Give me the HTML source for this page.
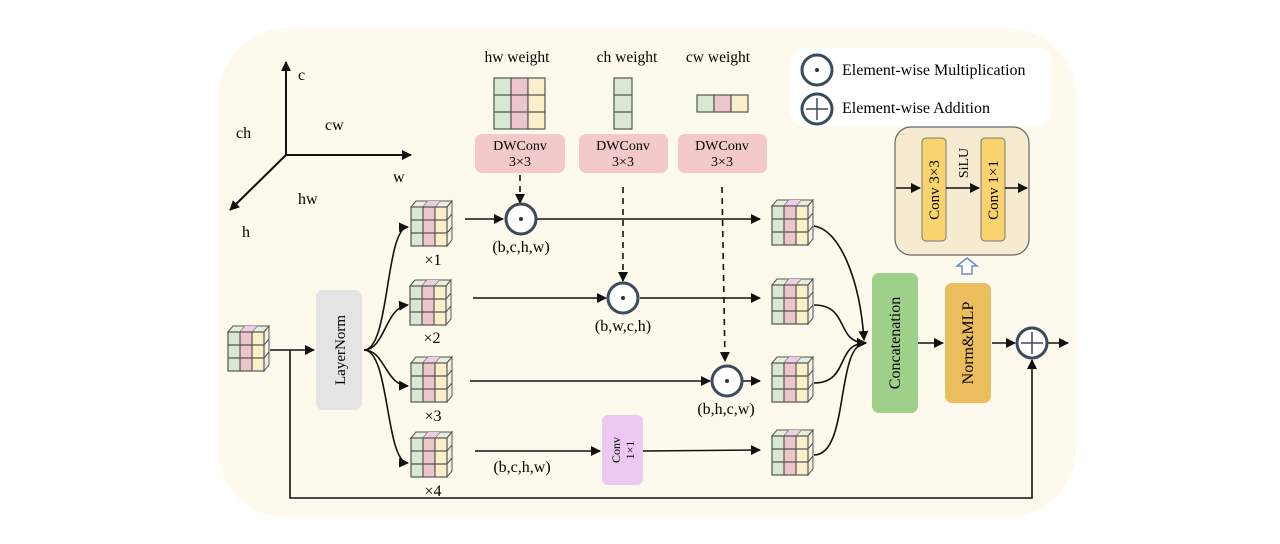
<!DOCTYPE html>
<html><head><meta charset="utf-8"><style>
html,body{margin:0;padding:0;background:#fff;}
svg{display:block;font-family:"Liberation Serif",serif;}
</style></head><body>
<svg width="1280" height="544" viewBox="0 0 1280 544" xmlns="http://www.w3.org/2000/svg">
<defs>
<marker id="a" markerWidth="10" markerHeight="10" refX="9" refY="5" orient="auto" markerUnits="userSpaceOnUse"><path d="M0,0 L10,5 L0,10 z" fill="#111"/></marker>
<g id="cube">
<polygon points="0,6 5,0 41,0 36,6" fill="#e6eedd" stroke="#555" stroke-width="1"/>
<line x1="12" y1="6" x2="17" y2="0" stroke="#555"/><line x1="24" y1="6" x2="29" y2="0" stroke="#555"/>
<polygon points="12,6 17,0 29,0 24,6" fill="#e9cfe0"/>
<polygon points="36,6 41,0 41,39 36,45" fill="#f4f0e2" stroke="#555" stroke-width="1"/>
<line x1="36" y1="19" x2="41" y2="13" stroke="#555"/><line x1="36" y1="32" x2="41" y2="26" stroke="#555"/>
<rect x="0" y="6" width="12" height="39" fill="#d9e8d3"/>
<rect x="12" y="6" width="12" height="39" fill="#ecc6cb"/>
<rect x="24" y="6" width="12" height="39" fill="#fbefc9"/>
<g stroke="#555" stroke-width="1.2" fill="none">
<rect x="0" y="6" width="36" height="39"/>
<line x1="12" y1="6" x2="12" y2="45"/><line x1="24" y1="6" x2="24" y2="45"/>
<line x1="0" y1="19" x2="36" y2="19"/><line x1="0" y1="32" x2="36" y2="32"/>
</g>
</g>
<g id="mul"><circle r="15" fill="#fff" stroke="#3d4a5c" stroke-width="3"/><circle r="2" fill="#333"/></g>
</defs>
<rect x="218" y="28" width="858" height="490" rx="70" fill="#fdf9ec"/>
<rect x="790" y="48" width="262" height="78" rx="14" fill="#fff"/>
<use href="#mul" x="817" y="70"/>
<text x="842" y="75" font-size="16">Element-wise Multiplication</text>
<circle cx="817" cy="109" r="15" fill="#fff" stroke="#3d4a5c" stroke-width="3"/>
<path d="M806,109 H828 M817,98 V120" stroke="#3d4a5c" stroke-width="1.5"/>
<text x="842" y="113" font-size="16">Element-wise Addition</text>
<g stroke="#111" stroke-width="2" fill="none">
<line x1="286" y1="155" x2="286" y2="62" marker-end="url(#a)"/>
<line x1="286" y1="155" x2="411" y2="155" marker-end="url(#a)"/>
<line x1="286" y1="155" x2="230" y2="210" marker-end="url(#a)"/>
</g>
<g font-size="16">
<text x="298" y="80">c</text><text x="236" y="138">ch</text><text x="325" y="130">cw</text>
<text x="393" y="182">w</text><text x="298" y="204">hw</text><text x="242" y="237">h</text>
</g>
<g font-size="15.5" text-anchor="middle"><text x="517" y="62">hw weight</text><text x="627" y="62">ch weight</text><text x="718" y="62">cw weight</text></g>
<g stroke="#555" stroke-width="1.2">
<rect x="494" y="78" width="17" height="51" fill="#d9e8d3"/><rect x="511" y="78" width="17" height="51" fill="#ecc6cb"/><rect x="528" y="78" width="17" height="51" fill="#fbefc9"/>
<line x1="494" y1="95" x2="545" y2="95"/><line x1="494" y1="112" x2="545" y2="112"/>
<rect x="614" y="78" width="18" height="51" fill="#d9e8d3"/><line x1="614" y1="95" x2="632" y2="95"/><line x1="614" y1="112" x2="632" y2="112"/>
<rect x="697" y="95" width="17" height="17" fill="#d9e8d3"/><rect x="714" y="95" width="17" height="17" fill="#ecc6cb"/><rect x="731" y="95" width="17" height="17" fill="#fbefc9"/>
</g>
<g fill="#f3c9cb"><rect x="475" y="134" width="90" height="39" rx="7"/><rect x="579" y="134" width="89" height="39" rx="7"/><rect x="678" y="134" width="89" height="39" rx="7"/></g>
<g font-size="14" text-anchor="middle"><text x="520" y="150">DWConv</text><text x="520" y="166">3×3</text>
<text x="623" y="150">DWConv</text><text x="623" y="166">3×3</text><text x="722" y="150">DWConv</text><text x="722" y="166">3×3</text></g>
<g stroke="#111" stroke-width="1.6" stroke-dasharray="6,5" fill="none">
<line x1="520" y1="175" x2="520" y2="203" marker-end="url(#a)"/>
<line x1="623" y1="187" x2="623" y2="281" marker-end="url(#a)"/>
<line x1="722" y1="187" x2="725" y2="361" marker-end="url(#a)"/>
</g>
<use href="#cube" x="228" y="326"/>
<rect x="316" y="290" width="46" height="120" rx="7" fill="#e4e4e4"/>
<text transform="translate(345,350) rotate(-90)" font-size="15" text-anchor="middle">LayerNorm</text>
<g stroke="#111" stroke-width="1.6" fill="none">
<line x1="270" y1="350" x2="314" y2="350" marker-end="url(#a)"/>
<path d="M290,350 V498 H1032 V360" marker-end="url(#a)"/>
<path d="M364,350 C390,350 385,228 408,227" marker-end="url(#a)"/>
<path d="M364,350 C385,350 385,307 408,305" marker-end="url(#a)"/>
<path d="M364,350 C385,350 385,385 408,386" marker-end="url(#a)"/>
<path d="M364,350 C390,350 385,462 408,463" marker-end="url(#a)"/>
<line x1="465" y1="219" x2="503" y2="219" marker-end="url(#a)"/>
<line x1="537" y1="219" x2="760" y2="219" marker-end="url(#a)"/>
<line x1="473" y1="298" x2="606" y2="298" marker-end="url(#a)"/>
<line x1="640" y1="298" x2="760" y2="298" marker-end="url(#a)"/>
<line x1="470" y1="381" x2="710" y2="381" marker-end="url(#a)"/>
<line x1="743" y1="381" x2="760" y2="381" marker-end="url(#a)"/>
<line x1="475" y1="451" x2="600" y2="451" marker-end="url(#a)"/>
<line x1="643" y1="451" x2="760" y2="450" marker-end="url(#a)"/>
<path d="M814,226 C840,230 860,280 864,340" marker-end="url(#a)"/>
<path d="M814,305 C850,305 835,343 866,343" marker-end="url(#a)"/>
<path d="M814,383 C850,383 835,343 866,343" marker-end="url(#a)"/>
<path d="M814,455 C850,455 835,343 866,343" marker-end="url(#a)"/>
<line x1="918" y1="343" x2="943" y2="343" marker-end="url(#a)"/>
<line x1="992" y1="343" x2="1015" y2="343" marker-end="url(#a)"/>
<line x1="1048" y1="343" x2="1068" y2="343" marker-end="url(#a)"/>
</g>
<use href="#cube" x="411" y="201"/><use href="#cube" x="410" y="280"/><use href="#cube" x="411" y="357"/><use href="#cube" x="411" y="432"/>
<use href="#cube" x="772" y="200"/><use href="#cube" x="772" y="279"/><use href="#cube" x="772" y="357"/><use href="#cube" x="772" y="430"/>
<g font-size="16" text-anchor="middle"><text x="433" y="265">×1</text><text x="432" y="343">×2</text><text x="433" y="421">×3</text><text x="433" y="496">×4</text></g>
<use href="#mul" x="521" y="219"/><use href="#mul" x="623" y="298"/><use href="#mul" x="727" y="381"/>
<g font-size="16" text-anchor="middle"><text x="521" y="252">(b,c,h,w)</text><text x="623" y="331">(b,w,c,h)</text><text x="726" y="414">(b,h,c,w)</text><text x="522" y="472">(b,c,h,w)</text></g>
<rect x="602" y="415" width="41" height="70" rx="6" fill="#ecc9f0"/>
<text transform="translate(620,450) rotate(-90)" font-size="12" text-anchor="middle">Conv</text>
<text transform="translate(634,450) rotate(-90)" font-size="12" text-anchor="middle">1×1</text>
<rect x="872" y="273" width="46" height="140" rx="7" fill="#9fd08a"/>
<text transform="translate(900,343) rotate(-90)" font-size="16" text-anchor="middle">Concatenation</text>
<rect x="945" y="283" width="46" height="120" rx="7" fill="#ecbd5d"/>
<text transform="translate(973,343) rotate(-90)" font-size="16" text-anchor="middle">Norm&amp;MLP</text>
<circle cx="1032" cy="343" r="15" fill="#fff" stroke="#3d4a5c" stroke-width="3"/>
<path d="M1021,343 H1043 M1032,332 V354" stroke="#3d4a5c" stroke-width="1.5"/>
<rect x="895" y="127" width="134" height="128" rx="16" fill="#f6ebd1" stroke="#666" stroke-width="1.2"/>
<rect x="922" y="138" width="24" height="103" rx="4" fill="#f9d36e" stroke="#777"/>
<rect x="981" y="138" width="24" height="103" rx="4" fill="#f9d36e" stroke="#777"/>
<text transform="translate(939,190) rotate(-90)" font-size="15" text-anchor="middle">Conv 3×3</text>
<text transform="translate(998,190) rotate(-90)" font-size="15" text-anchor="middle">Conv 1×1</text>
<text transform="translate(968,163) rotate(-90)" font-size="14" text-anchor="middle">SiLU</text>
<g stroke="#111" stroke-width="1.6"><line x1="896" y1="188" x2="920" y2="188" marker-end="url(#a)"/><line x1="946" y1="188" x2="979" y2="188" marker-end="url(#a)"/><line x1="1005" y1="188" x2="1027" y2="188" marker-end="url(#a)"/></g>
<path d="M967,258 L977,266 H972 V274 H962 V266 H957 Z" fill="#fff" stroke="#6a8fc8" stroke-width="1.5"/>
</svg>
</body></html>
